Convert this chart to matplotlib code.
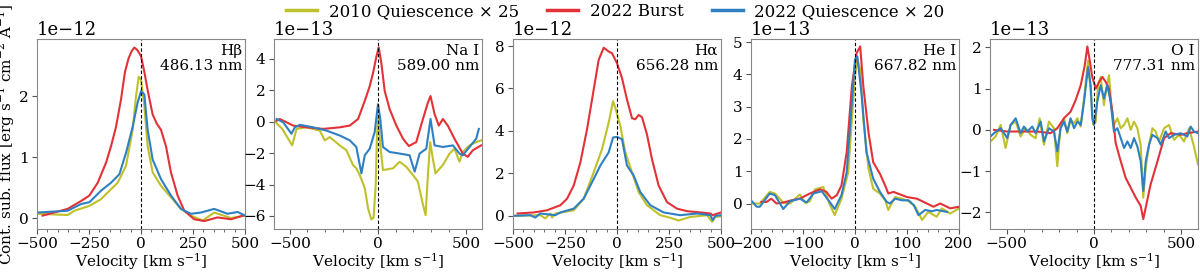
import matplotlib
matplotlib.use("Agg")
import matplotlib.pyplot as plt
from matplotlib.ticker import AutoMinorLocator, MultipleLocator
import numpy as np

plt.rcParams['font.family'] = ['DejaVu Serif']
plt.rcParams['mathtext.fontset'] = 'dejavuserif'

series_labels = ["2010 Quiescence \u00d7 25", "2022 Burst", "2022 Quiescence \u00d7 20"]
series_colors = ["#bfc12a", "#e33237", "#2f80c2"]

line_names = ["H\u03b2\n486.13 nm", "Na I\n589.00 nm", "H\u03b1\n656.28 nm", "He I\n667.82 nm", "O I\n777.31 nm"]

# ---------------- H beta (1e-12) ----------------
hb_q10_v = [-500, -353, -320, -248, -192, -160, -112, -72, -40, -24, -11, 0, 16, 32, 56, 96, 144, 192, 240, 296, 352, 433, 500]
hb_q10_f = [0.07, 0.05, 0.12, 0.20, 0.31, 0.42, 0.58, 0.86, 1.45, 2.00, 2.32, 2.27, 1.84, 1.18, 0.75, 0.53, 0.34, 0.15, 0.04, -0.04, 0.09, 0.00, 0.04]
hb_b22_v = [-473, -353, -288, -248, -208, -168, -144, -120, -96, -77, -60, -45, -32, -18, 0, 16, 32, 56, 76, 96, 120, 144, 176, 208, 256, 304, 368, 433, 500]
hb_b22_f = [0.04, 0.15, 0.28, 0.37, 0.58, 0.91, 1.18, 1.50, 1.95, 2.40, 2.62, 2.74, 2.80, 2.76, 2.66, 2.40, 2.10, 1.70, 1.55, 1.45, 1.18, 0.75, 0.37, 0.12, -0.02, -0.05, 0.01, -0.02, 0.05]
hb_q22_v = [-500, -353, -288, -248, -192, -144, -104, -72, -40, -16, 0, 16, 32, 56, 96, 144, 192, 240, 288, 352, 416, 465, 500]
hb_q22_f = [0.09, 0.12, 0.23, 0.26, 0.45, 0.58, 0.72, 1.07, 1.50, 1.90, 2.08, 2.03, 1.45, 0.96, 0.64, 0.37, 0.15, 0.07, 0.09, 0.15, 0.07, 0.10, 0.04]

# ---------------- Na I (1e-13) ----------------
na_q10_v = [-589, -543, -487, -462, -406, -330, -302, -274, -217, -179, -142, -123, -104, -75, -57, -38, -25, -13, -6, 2, 13, 28, 85, 123, 160, 198, 226, 255, 270, 283, 296, 308, 326, 368, 406, 434, 462, 481, 519, 557, 585]
na_q10_f = [0.06, -0.46, -1.51, -0.46, -0.36, -0.57, -1.19, -0.98, -1.51, -1.82, -2.76, -2.97, -3.39, -4.23, -5.49, -6.22, -6.11, -4.02, -0.88, 0.38, -1.51, -3.08, -2.97, -2.55, -2.87, -3.39, -3.81, -5.28, -5.95, -3.39, -1.30, -2.14, -3.29, -2.76, -2.03, -1.72, -2.55, -1.93, -1.51, -1.30, -1.19]
na_b22_v = [-575, -557, -481, -406, -311, -217, -160, -113, -75, -47, -28, -9, 4, 19, 38, 66, 104, 142, 175, 217, 255, 283, 298, 321, 345, 368, 396, 434, 481, 509, 538, 585]
na_b22_f = [0.06, 0.17, -0.25, -0.36, -0.46, -0.36, -0.25, 0.17, 1.32, 2.26, 3.10, 4.15, 4.73, 3.73, 1.95, 0.80, -0.25, -1.09, -1.55, -1.30, 0.17, 1.21, 1.63, 0.48, -0.25, 0.17, -0.25, -1.09, -2.03, -2.24, -1.82, -1.51]
na_q22_v = [-575, -538, -491, -472, -443, -368, -292, -217, -160, -123, -94, -75, -47, -19, 0, 13, 28, 66, 123, 179, 208, 236, 274, 298, 321, 368, 425, 462, 481, 519, 557, 572]
na_q22_f = [0.17, -0.04, -0.77, -0.36, -0.20, -0.36, -0.57, -0.88, -1.19, -1.61, -3.29, -2.14, -1.72, -0.67, 1.11, 0.17, -1.61, -1.93, -2.03, -2.14, -3.18, -2.03, -1.72, 0.17, -1.51, -1.61, -1.51, -2.03, -2.14, -1.61, -1.09, -0.46]

# ---------------- H alpha (1e-12) ----------------
ha_q10_v = [-500, -369, -345, -321, -312, -296, -208, -160, -112, -72, -40, -19, -8, 16, 40, 72, 104, 144, 208, 256, 296, 353, 433, 457, 473, 500]
ha_q10_f = [0.00, 0.03, -0.12, 0.11, -0.08, 0.11, 0.26, 0.81, 2.05, 3.14, 4.39, 5.40, 5.09, 4.23, 2.99, 2.05, 1.12, 0.50, 0.03, -0.09, -0.22, -0.05, 0.03, -0.28, -0.05, -0.02]
ha_b22_v = [-478, -401, -337, -272, -240, -208, -176, -144, -112, -88, -64, -40, -24, 0, 24, 48, 72, 88, 104, 120, 144, 168, 200, 240, 288, 337, 401, 449, 460, 500]
ha_b22_f = [0.11, 0.16, 0.26, 0.50, 0.81, 1.43, 2.52, 4.08, 5.95, 7.35, 7.92, 7.74, 7.66, 7.19, 6.49, 5.48, 4.60, 4.55, 4.75, 4.65, 3.84, 2.68, 1.43, 0.65, 0.34, 0.22, 0.16, 0.11, 0.03, 0.16]
ha_q22_v = [-500, -417, -393, -369, -297, -272, -208, -160, -112, -80, -40, -19, 0, 24, 48, 80, 112, 160, 224, 304, 385, 449, 460, 473, 500]
ha_q22_f = [0.00, 0.03, -0.08, 0.11, 0.03, 0.16, 0.34, 0.81, 1.74, 2.37, 2.99, 3.69, 3.72, 3.61, 2.37, 1.90, 1.12, 0.50, 0.16, 0.03, 0.11, 0.03, -0.20, 0.00, 0.03]

# ---------------- He I (1e-13) ----------------
he_q10_v = [-200, -183, -164, -154, -138, -125, -106, -96, -87, -77, -61, -48, -39, -26, -13, -6, 0, 4.5, 10, 16, 26, 35, 48, 58, 64, 77, 90, 103, 116, 129, 141, 157, 167, 183, 200]
he_q10_f = [0.00, 0.00, 0.36, 0.31, 0.03, 0.00, 0.28, 0.02, 0.07, 0.44, 0.51, -0.05, -0.36, 0.15, 0.97, 2.61, 3.94, 4.46, 4.15, 2.61, 1.08, 0.46, 0.31, 0.10, -0.20, 0.20, 0.15, 0.07, -0.10, -0.51, -0.26, -0.41, -0.15, -0.31, -0.15]
he_b22_v = [-180, -170, -161, -151, -138, -122, -106, -87, -67, -55, -45, -35, -26, -16, -6, 3, 10, 16, 26, 35, 48, 58, 64, 74, 100, 119, 132, 151, 164, 183, 200]
he_b22_f = [0.05, 0.05, 0.15, 0.00, 0.03, 0.10, 0.15, 0.31, 0.44, 0.36, 0.15, 0.26, 0.56, 1.59, 3.64, 4.66, 4.87, 3.64, 2.20, 1.28, 0.92, 0.56, 0.31, 0.36, 0.20, 0.15, 0.05, -0.10, 0.00, -0.15, -0.10]
he_q22_v = [-200, -189, -183, -164, -154, -138, -125, -106, -93, -80, -64, -51, -39, -26, -16, -6, 0, 4.5, 13, 22, 35, 48, 61, 67, 77, 90, 103, 113, 122, 135, 148, 157, 177]
he_q22_f = [0.10, -0.10, -0.10, 0.31, 0.26, -0.17, 0.07, 0.15, 0.03, 0.31, 0.38, 0.10, -0.17, 0.26, 0.97, 3.13, 4.46, 4.56, 3.33, 1.59, 0.77, 0.36, 0.05, 0.00, 0.15, 0.10, 0.10, -0.05, -0.36, -0.20, -0.24, -0.20, -0.26]

# ---------------- O I (1e-13) ----------------
oi_q10_v = [-592, -563, -534, -506, -477, -448, -420, -391, -363, -334, -311, -286, -258, -229, -210, -191, -172, -153, -134, -114, -95, -76, -57, -34, -19, -4, 10, 23, 38, 57, 73, 86, 99, 114, 134, 153, 172, 191, 210, 229, 248, 267, 282, 296, 315, 334, 353, 372, 401, 429, 458, 487, 515, 544, 572, 595]
oi_q10_f = [-0.28, -0.16, 0.12, -0.44, 0.12, 0.20, -0.16, 0.04, -0.12, -0.20, 0.28, -0.36, 0.20, 0.04, -0.88, 0.12, 0.28, -0.08, 0.24, 0.16, 0.28, 0.08, 0.76, 1.68, 0.92, 0.12, 0.20, 1.08, 1.28, 0.60, 1.08, 1.32, 0.60, 0.12, 0.28, 0.04, 0.12, 0.28, 0.00, 0.20, 0.04, -0.36, -1.64, -0.92, -0.36, 0.04, -0.04, -0.28, 0.04, 0.12, -0.24, -0.12, -0.28, 0.04, -0.40, -0.84]
oi_b22_v = [-572, -496, -420, -324, -248, -210, -172, -134, -105, -76, -53, -38, -23, -10, 10, 29, 48, 67, 86, 105, 124, 153, 181, 210, 239, 267, 282, 296, 324, 363, 401, 439, 496, 534, 595]
oi_b22_f = [0.00, -0.04, -0.04, -0.04, -0.08, 0.04, 0.28, 0.44, 0.72, 1.08, 1.56, 2.02, 1.64, 1.28, 1.00, 1.16, 1.28, 1.16, 1.00, 0.44, -0.32, -0.76, -1.16, -1.40, -1.64, -1.84, -2.16, -1.88, -1.32, -0.76, -0.20, -0.08, -0.12, -0.08, -0.04]
oi_q22_v = [-592, -572, -534, -496, -477, -448, -420, -401, -382, -353, -334, -305, -286, -258, -229, -210, -191, -172, -153, -134, -114, -95, -76, -57, -34, -19, -10, 0, 19, 38, 57, 76, 95, 114, 134, 153, 172, 191, 210, 229, 248, 267, 282, 296, 315, 334, 363, 382, 410, 429, 458, 496, 534, 553, 572, 595]
oi_q22_f = [-0.16, -0.08, 0.04, -0.20, 0.12, 0.28, -0.08, 0.08, -0.04, 0.08, -0.08, 0.20, -0.28, 0.04, -0.04, -0.52, 0.04, 0.20, -0.04, 0.28, 0.04, 0.20, 0.12, 0.68, 1.52, 1.08, 0.28, 0.12, 0.68, 1.08, 0.76, 1.08, 0.68, -0.04, 0.04, -0.20, -0.44, -0.28, -0.44, -0.20, -0.40, -0.76, -1.48, -0.76, -0.36, -0.12, -0.20, -0.36, -0.04, -0.20, -0.12, -0.08, -0.16, 0.08, -0.04, -0.08]

panels = [
    (hb_q10_v, hb_q10_f, hb_b22_v, hb_b22_f, hb_q22_v, hb_q22_f, 1e-12),
    (na_q10_v, na_q10_f, na_b22_v, na_b22_f, na_q22_v, na_q22_f, 1e-13),
    (ha_q10_v, ha_q10_f, ha_b22_v, ha_b22_f, ha_q22_v, ha_q22_f, 1e-12),
    (he_q10_v, he_q10_f, he_b22_v, he_b22_f, he_q22_v, he_q22_f, 1e-13),
    (oi_q10_v, oi_q10_f, oi_b22_v, oi_b22_f, oi_q22_v, oi_q22_f, 1e-13),
]

xlims = [(-500, 500), (-590, 590), (-500, 500), (-200, 200), (-595, 595)]
ylims = [(-0.18, 2.94), (-6.83, 5.26), (-0.62, 8.33), (-0.79, 5.1), (-2.4, 2.2)]
xmajor = [250, 500, 250, 100, 500]
ymajor = [1, 2, 2, 1, 1]

W, H = 1200, 272
fig = plt.figure(figsize=(W / 100, H / 100), dpi=100)
lefts = [37, 274, 513, 751, 990]
aw = 208
top_px, bot_px = 39, 229

handles = []
for i, (p, left) in enumerate(zip(panels, lefts)):
    ax = fig.add_axes([left / W, 1 - bot_px / H, aw / W, (bot_px - top_px) / H])
    scale = p[6]
    for k in range(3):
        v = np.array(p[2 * k])
        f = np.array(p[2 * k + 1]) * scale
        ln, = ax.plot(v, f, color=series_colors[k], lw=1.5, label=series_labels[k])
        if i == 0:
            handles.append(ln)
    ax.axvline(0, color='black', ls='--', lw=0.8, dashes=(3, 2))
    ax.set_xlim(*xlims[i])
    ax.set_ylim(ylims[i][0] * scale, ylims[i][1] * scale)
    ax.xaxis.set_major_locator(MultipleLocator(xmajor[i]))
    ax.yaxis.set_major_locator(MultipleLocator(ymajor[i] * scale))
    ax.xaxis.set_minor_locator(AutoMinorLocator())
    for s in ax.spines.values():
        s.set_color('#888888')
    ax.tick_params(axis='both', which='both', colors='#555555', labelcolor='black', labelsize=11, pad=2.5)
    ax.tick_params(axis='x', which='minor', length=2)
    ax.yaxis.get_offset_text().set_fontsize(13)
    ax.set_xlabel("Velocity [km s$^{-1}$]", fontsize=11, labelpad=0)
    ax.text(0.985, 0.975, line_names[i], transform=ax.transAxes, ha='right', va='top',
            fontsize=11, multialignment='right', linespacing=1.1)
    if i == 0:
        ax.set_ylabel("Cont. sub. flux [erg s$^{-1}$ cm$^{-2}$ \u00c5$^{-1}$]", fontsize=11)
        ax.yaxis.set_label_coords(-0.10, 0.5)

leg = fig.legend(handles=handles, loc='upper center', bbox_to_anchor=(0.513, 1.025), ncol=3,
                 frameon=False, fontsize=12, handlelength=1.85, handletextpad=0.7,
                 columnspacing=1.7, borderaxespad=0.2)
for h in leg.get_lines():
    h.set_linewidth(2.5)

fig.savefig("out.png", dpi=100)
